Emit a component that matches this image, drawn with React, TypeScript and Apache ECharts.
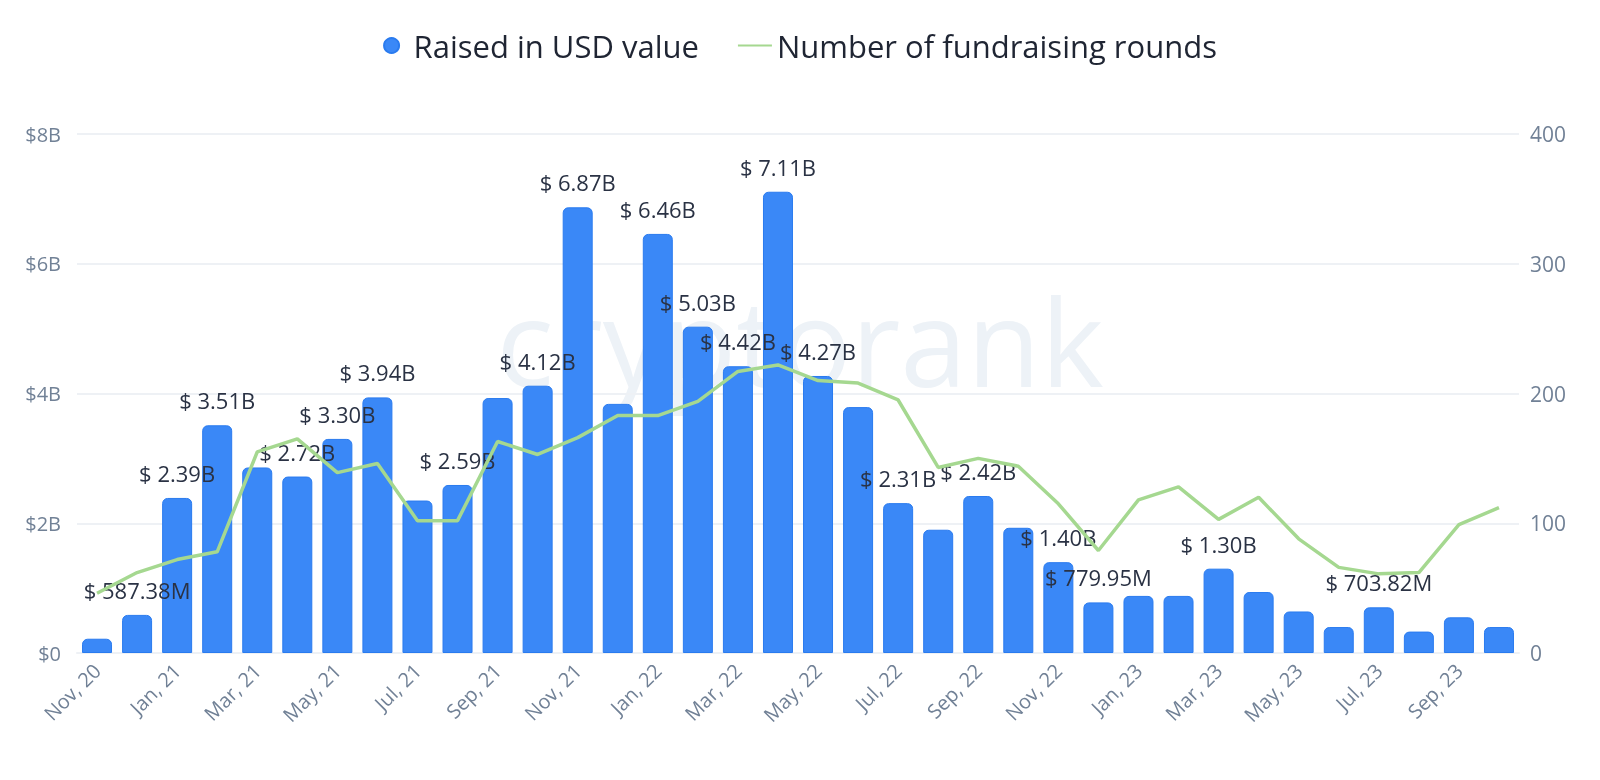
import React, { useEffect, useRef } from "react";
import * as echarts from "echarts";

const months = [
  "Nov, 20", "Dec, 20",
  "Jan, 21", "Feb, 21", "Mar, 21", "Apr, 21", "May, 21", "Jun, 21", "Jul, 21", "Aug, 21", "Sep, 21", "Oct, 21", "Nov, 21", "Dec, 21",
  "Jan, 22", "Feb, 22", "Mar, 22", "Apr, 22", "May, 22", "Jun, 22", "Jul, 22", "Aug, 22", "Sep, 22", "Oct, 22", "Nov, 22", "Dec, 22",
  "Jan, 23", "Feb, 23", "Mar, 23", "Apr, 23", "May, 23", "Jun, 23", "Jul, 23", "Aug, 23", "Sep, 23", "Oct, 23",
];

const raisedUsd = [
  0.22e9, 587.38e6,
  2.39e9, 3.51e9, 2.86e9, 2.72e9, 3.30e9, 3.94e9, 2.35e9, 2.59e9, 3.93e9, 4.12e9, 6.87e9, 3.84e9,
  6.46e9, 5.03e9, 4.42e9, 7.11e9, 4.27e9, 3.79e9, 2.31e9, 1.90e9, 2.42e9, 1.93e9, 1.40e9, 779.95e6,
  0.88e9, 0.88e9, 1.30e9, 0.94e9, 0.64e9, 0.40e9, 703.82e6, 0.33e9, 0.55e9, 0.40e9,
];

const rounds = [
  46, 62,
  72, 78, 155, 165, 139, 146, 102, 102, 163, 153, 166, 183,
  183, 194, 217, 222, 210, 208, 195, 143, 150, 144, 115, 79,
  118, 128, 103, 120, 88, 66, 61, 62, 99, 112,
];

const labeledMonths = [
  "Dec, 20", "Jan, 21", "Feb, 21", "Apr, 21", "May, 21", "Jun, 21", "Aug, 21", "Oct, 21", "Nov, 21",
  "Jan, 22", "Feb, 22", "Mar, 22", "Apr, 22", "May, 22", "Jul, 22", "Sep, 22", "Nov, 22", "Dec, 22",
  "Mar, 23", "Jul, 23",
];

const leftTicks = ["$0", "$2B", "$4B", "$6B", "$8B"];

const fmtUsd = (v: number) =>
  v >= 1e9 ? `$ ${(v / 1e9).toFixed(2)}B` : `$ ${(v / 1e6).toFixed(2)}M`;

export default function App() {
  const ref = useRef<HTMLDivElement>(null);
  useEffect(() => {
    if (!ref.current) return;
    const chart = echarts.init(ref.current, undefined, { renderer: "svg" });
    const font = "Open Sans";
    chart.setOption({
      animation: false,
      textStyle: { fontFamily: font },
      graphic: [
        {
          type: "text",
          left: "center",
          top: 280,
          z: 0,
          silent: true,
          style: {
            text: "cryptorank",
            fontSize: 120,
            fontFamily: font,
            fontWeight: 500,
            fill: "#edf2f7",
          },
        },
      ],
      legend: {
        top: 25,
        left: "center",
        itemGap: 38,
        itemWidth: 34,
        itemHeight: 15,
        textStyle: { fontSize: 31, color: "#1f2533", fontFamily: font },
        data: [
          { name: "Raised in USD value", icon: "circle" },
          { name: "Number of fundraising rounds", itemStyle: { opacity: 0 } },
        ],
      },
      grid: { left: 77, right: 81, top: 134, bottom: 127, containLabel: false },
      xAxis: {
        type: "category",
        data: months,
        axisLine: { lineStyle: { color: "#eef1f5", width: 2 } },
        axisTick: { show: false },
        axisLabel: {
          interval: 1,
          rotate: 45,
          fontSize: 20,
          color: "#718196",
          margin: 14,
          fontFamily: font,
        },
      },
      yAxis: [
        {
          type: "value",
          min: 0,
          max: 8e9,
          interval: 2e9,
          axisLine: { show: false },
          axisTick: { show: false },
          splitLine: { lineStyle: { color: "#eef1f5", width: 2 } },
          axisLabel: {
            fontSize: 20,
            color: "#718196",
            margin: 16,
            formatter: (v: number) => leftTicks[Math.round(v / 2e9)],
          },
        },
        {
          type: "value",
          min: 0,
          max: 400,
          interval: 100,
          axisLine: { show: false },
          axisTick: { show: false },
          splitLine: { show: false },
          axisLabel: { fontSize: 21, color: "#718196", margin: 11 },
        },
      ],
      series: [
        {
          name: "Raised in USD value",
          type: "bar",
          barWidth: 30,
          z: 2,
          itemStyle: {
            color: "#3a88f7",
            borderColor: "#2a7bef",
            borderWidth: 1,
            borderRadius: [5, 5, 0, 0],
          },
          label: {
            show: true,
            position: "top",
            distance: 14,
            fontSize: 22,
            color: "#2a3244",
            fontFamily: font,
            formatter: (p: any) => fmtUsd(p.value),
          },
          data: raisedUsd.map((v, i) => ({
            value: v,
            label: { show: labeledMonths.includes(months[i]) },
          })),
        },
        {
          name: "Number of fundraising rounds",
          type: "line",
          yAxisIndex: 1,
          symbol: "none",
          z: 3,
          lineStyle: { color: "#a5d890", width: 3.5 },
          itemStyle: { color: "#a5d890" },
          data: rounds,
        },
      ],
    });
    return () => chart.dispose();
  }, []);
  return (
    <div
      ref={ref}
      style={{ position: "fixed", left: 0, top: 0, width: 1600, height: 780 }}
    />
  );
}
